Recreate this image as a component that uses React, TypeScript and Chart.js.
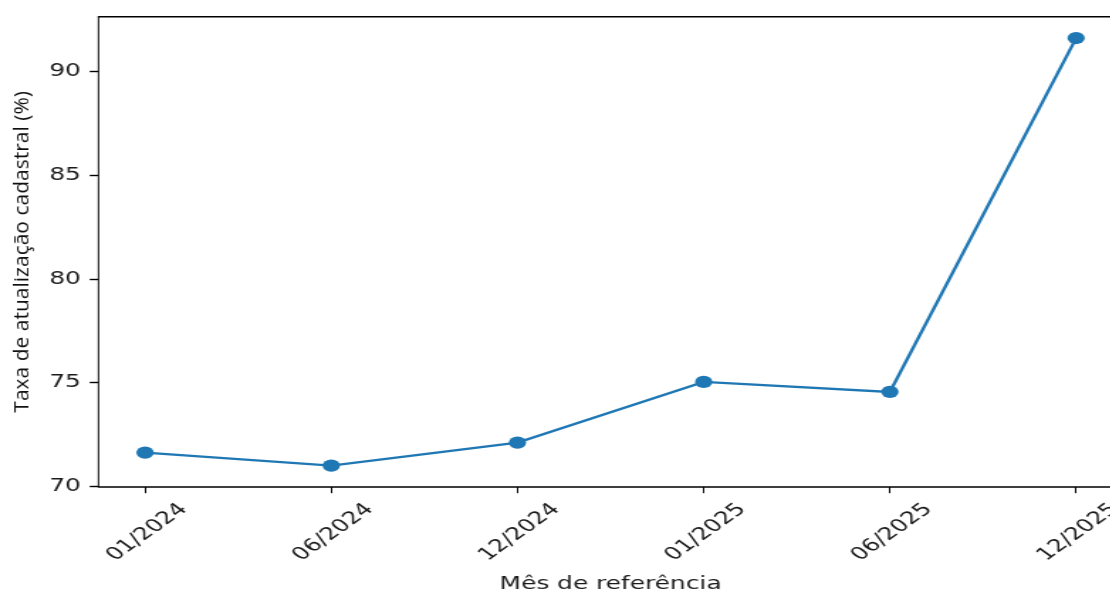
import React, { useEffect, useRef } from 'react';
import { Chart, registerables } from 'chart.js';

Chart.register(...registerables);

const MONTHS = ['01/2024', '06/2024', '12/2024', '01/2025', '06/2025', '12/2025'];
const RATES = [71.63, 71.0, 72.11, 75.04, 74.56, 91.63];
const Y_TICKS = [70, 75, 80, 85, 90];
const X_LABEL = 'Mês de referência';
const Y_LABEL = 'Taxa de atualização cadastral (%)';

const SX = 1.42; // horizontal stretch of the picture
const W = 800;
const H = 594;
const FONT = '"DejaVu Sans", sans-serif';
const FS = 17.5;
const TICK_LEN = 6.2;
const TICK_PAD = 6.2;
const TEXT = '#1a1a1a';
const BLUE = '#1f77b4';

const decor = {
  id: 'decor',
  afterDraw(chart: any) {
    const { ctx, chartArea: a } = chart;
    const xs = chart.scales.x;
    ctx.save();
    ctx.strokeStyle = '#000';
    ctx.lineWidth = 1.4;
    ctx.beginPath();
    ctx.moveTo(a.left - 0.5, a.top);
    ctx.lineTo(a.right + 0.5, a.top);
    ctx.moveTo(a.left - 0.5, a.bottom);
    ctx.lineTo(a.right + 0.5, a.bottom);
    ctx.stroke();
    ctx.lineWidth = 1.0;
    ctx.beginPath();
    ctx.moveTo(a.left, a.top);
    ctx.lineTo(a.left, a.bottom);
    ctx.moveTo(a.right, a.top);
    ctx.lineTo(a.right, a.bottom);
    ctx.stroke();

    // rotated x tick labels, centred on their ticks
    ctx.font = `${FS}px ${FONT}`;
    ctx.fillStyle = TEXT;
    ctx.textAlign = 'center';
    ctx.textBaseline = 'middle';
    const top = a.bottom + TICK_LEN + TICK_PAD;
    const h = FS * 1.16;
    MONTHS.forEach((m, i) => {
      const x = xs.getPixelForValue(i) + 1.5;
      const w = ctx.measureText(m).width;
      const cy = top + (w + h) / (2 * Math.SQRT2);
      ctx.save();
      ctx.translate(x, cy);
      ctx.rotate(-Math.PI / 4);
      ctx.fillText(m, 0, 0);
      ctx.restore();
    });

    // y axis title (not stretched)
    ctx.font = `21px "Open Sans", sans-serif`;
    ctx.fillStyle = '#111';
    ctx.save();
    ctx.translate(15.8, (a.top + a.bottom) / 2);
    ctx.scale(1 / SX, 1);
    ctx.rotate(-Math.PI / 2);
    ctx.fillText(Y_LABEL, 0, 0);
    ctx.restore();
    ctx.restore();
  },
};

export default function App() {
  const ref = useRef<HTMLCanvasElement | null>(null);

  useEffect(() => {
    if (!ref.current) return;
    const chart = new Chart(ref.current, {
      type: 'line',
      data: {
        datasets: [
          {
            data: RATES.map((v, i) => ({ x: i, y: v })),
            borderColor: BLUE,
            backgroundColor: BLUE,
            borderWidth: 2.4,
            pointRadius: 6.1,
            pointHoverRadius: 6.1,
            pointBackgroundColor: BLUE,
            pointBorderWidth: 0,
            tension: 0,
          },
        ],
      },
      options: {
        responsive: false,
        animation: false,
        devicePixelRatio: 1,
        events: [],
        layout: { padding: { top: 13.5, left: 0, right: W - 790.6, bottom: 0 } },
        plugins: { legend: { display: false }, tooltip: { enabled: false } },
        scales: {
          x: {
            type: 'linear',
            min: -0.25,
            max: 5.25,
            afterBuildTicks: (s: any) => {
              s.ticks = MONTHS.map((_, i) => ({ value: i }));
            },
            afterFit: (s: any) => {
              s.height = H - 487;
            },
            ticks: { display: false },
            grid: {
              drawOnChartArea: false,
              drawTicks: true,
              tickLength: TICK_LEN,
              tickColor: '#000',
              tickWidth: 1.0,
            },
            border: { display: false },
            title: {
              display: true,
              text: X_LABEL,
              color: TEXT,
              font: { family: FONT, size: FS, lineHeight: 1.1 },
              padding: 0,
            },
          },
          y: {
            type: 'linear',
            min: 69.97,
            max: 92.66,
            afterBuildTicks: (s: any) => {
              s.ticks = Y_TICKS.map((v) => ({ value: v }));
            },
            afterFit: (s: any) => {
              s.width = 69.37;
            },
            ticks: {
              color: TEXT,
              font: { family: FONT, size: FS },
              padding: TICK_PAD,
              callback: (v: any) => String(v),
            },
            grid: {
              drawOnChartArea: false,
              drawTicks: true,
              tickLength: TICK_LEN,
              tickColor: '#000',
              tickWidth: 1.4,
            },
            border: { display: false },
          },
        },
      },
      plugins: [decor],
    });
    return () => chart.destroy();
  }, []);

  return (
    <div
      style={{
        position: 'fixed',
        left: 0,
        top: 0,
        width: 1110,
        height: 594,
        overflow: 'hidden',
        background: '#fff',
      }}
    >
      <canvas
        ref={ref}
        width={W}
        height={H}
        style={{ width: `${W * SX}px`, height: `${H}px`, display: 'block' }}
      />
    </div>
  );
}
